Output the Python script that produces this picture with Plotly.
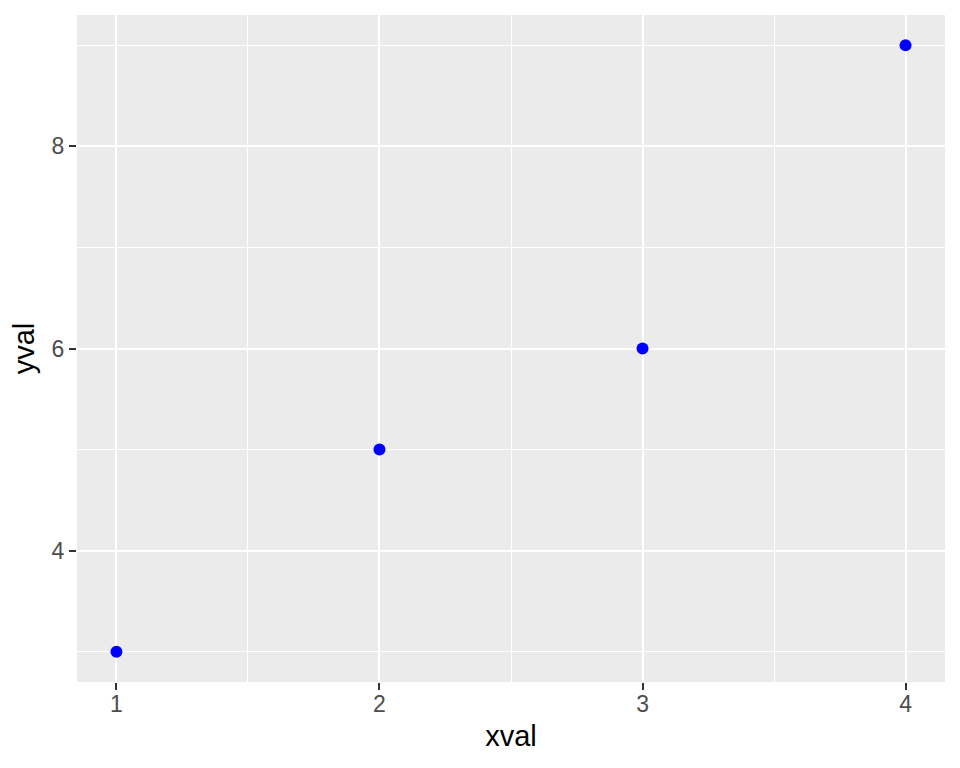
import plotly.graph_objects as go

xval = [1, 2, 3, 4]
yval = [3, 5, 6, 9]

fig = go.Figure()
fig.add_trace(go.Scatter(
    x=xval, y=yval, mode="markers",
    marker=dict(color="#0000FF", size=12, line=dict(width=0)),
    showlegend=False,
))

tickfont = dict(family="Liberation Sans, Arial, sans-serif", size=23, color="#4D4D4D")
titlefont = dict(family="Liberation Sans, Arial, sans-serif", size=29, color="#000000")

fig.update_layout(
    width=960, height=768,
    margin=dict(l=69, r=23, t=7, b=94),
    paper_bgcolor="white",
    plot_bgcolor="#EBEBEB",
    xaxis=dict(
        range=[0.85, 4.15], tickmode="linear", tick0=1, dtick=1,
        showgrid=True, gridcolor="white", gridwidth=2,
        zeroline=False, showline=False,
        ticks="outside", ticklen=7, tickwidth=2, tickcolor="#333333",
        tickfont=tickfont, ticklabelstandoff=-6,
        minor=dict(dtick=0.5, tick0=1, showgrid=True, gridcolor="white", gridwidth=1, ticks=""),
        title=dict(text="xval", font=titlefont, standoff=10),
    ),
    yaxis=dict(
        range=[2.7, 9.3], tickmode="linear", tick0=4, dtick=2,
        showgrid=True, gridcolor="white", gridwidth=2,
        zeroline=False, showline=False,
        ticks="outside", ticklen=7, tickwidth=2, tickcolor="#333333",
        tickfont=tickfont,
        minor=dict(dtick=1, tick0=3, showgrid=True, gridcolor="white", gridwidth=1, ticks=""),
        title=dict(text="yval", font=titlefont, standoff=10),
    ),
)

fig.write_html("out.html")
